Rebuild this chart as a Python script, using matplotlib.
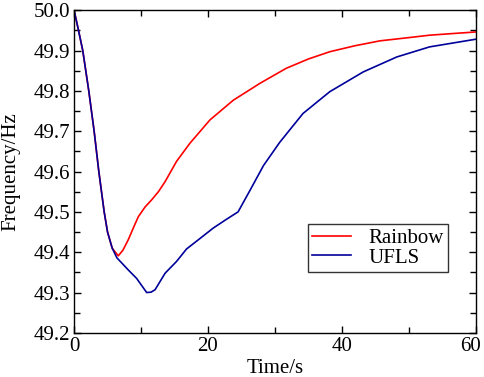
import numpy as np
import matplotlib
matplotlib.use("Agg")
import matplotlib.pyplot as plt
from matplotlib.ticker import MultipleLocator, FormatStrFormatter
from matplotlib.transforms import ScaledTranslation

# ---- data ----
t_rainbow = [0, 0.6, 1.3, 2.2, 3.0, 3.7, 4.5, 5.0, 5.7, 6.6, 7.3, 8.1,
             8.9, 9.6, 10.6, 11.6, 12.6, 13.6, 15.3, 17.3, 20.3, 23.8, 27.8,
             31.7, 35.0, 38.2, 42.0, 45.7, 50.0, 53.1, 56.5, 60]
f_rainbow = [50.0, 49.955, 49.9, 49.8, 49.7, 49.6, 49.5, 49.45, 49.41,
             49.391, 49.405, 49.431, 49.462, 49.488, 49.512, 49.530, 49.55,
             49.575, 49.625, 49.67, 49.728, 49.777, 49.819, 49.856, 49.879,
             49.897, 49.912, 49.924, 49.932, 49.938, 49.942, 49.946]

t_ufls = [0, 0.6, 1.3, 2.2, 3.0, 3.7, 4.5, 5.0, 5.7, 6.4, 7.2, 8.1, 9.35,
          10.85, 11.5, 12.1, 13.6, 15.3, 16.8, 18.5, 20.8, 22.8, 24.5, 26.3,
          28.3, 30.7, 32.3, 34.2, 38.2, 43.2, 48.2, 53.1, 60]
f_ufls = [50.0, 49.955, 49.9, 49.8, 49.7, 49.6, 49.5, 49.45, 49.41, 49.386,
          49.372, 49.356, 49.335, 49.300, 49.301, 49.307, 49.348, 49.377,
          49.408, 49.43, 49.46, 49.482, 49.5, 49.554, 49.615, 49.672, 49.705,
          49.744, 49.798, 49.847, 49.884, 49.909, 49.928]

x_ticks = [0, 20, 40, 60]

plt.rcParams["font.family"] = ["Liberation Serif", "DejaVu Serif"]

fig = plt.figure(figsize=(4.84, 3.77), dpi=100)
ax = fig.add_axes([0.153, 0.117, 0.830, 0.856])

ax.plot(t_rainbow, f_rainbow, color="#ff0000", lw=1.2, label="Rainbow")
ax.plot(t_ufls, f_ufls, color="#00009a", lw=1.2, label="UFLS")

ax.set_xlim(0, 60)
ax.set_ylim(49.2, 50.0)
ax.set_xticks(x_ticks)
ax.xaxis.set_minor_locator(MultipleLocator(10))
ax.yaxis.set_major_locator(MultipleLocator(0.1))
ax.yaxis.set_minor_locator(MultipleLocator(0.05))
ax.yaxis.set_major_formatter(FormatStrFormatter("%.1f"))
ax.tick_params(which="both", direction="in", top=True, right=True,
               labelsize=15, width=1.0)
ax.tick_params(which="major", length=5, pad=3)
ax.tick_params(which="minor", length=4)
for s in ax.spines.values():
    s.set_linewidth(1.0)

ax.set_xlabel("Time/s", fontsize=15, labelpad=2)
ax.set_ylabel("Frequency/Hz", fontsize=15, labelpad=9)

leg = ax.legend(loc="lower right", bbox_to_anchor=(0.93, 0.189), fontsize=15,
                frameon=True, fancybox=False, edgecolor="black",
                handlelength=1.9, borderpad=0.2, labelspacing=0.0,
                handletextpad=0.8, borderaxespad=0)
leg.get_frame().set_linewidth(1.0)

# nudge the "60" label left so it stays inside the figure, as in the original
fig.canvas.draw()
last = ax.xaxis.get_major_ticks()[len(x_ticks) - 1].label1
last.set_transform(last.get_transform() + ScaledTranslation(-0.05, 0, fig.dpi_scale_trans))

fig.savefig("out.png", dpi=100)
